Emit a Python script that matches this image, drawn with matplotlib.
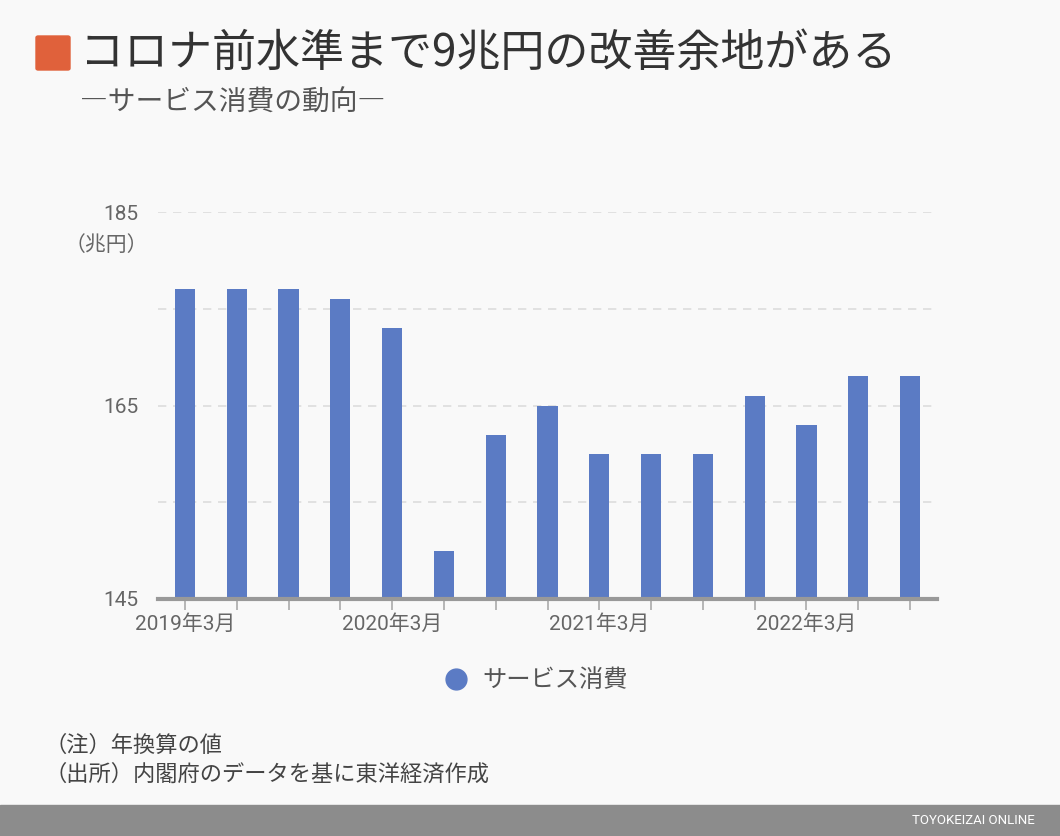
import numpy as np
import matplotlib.pyplot as plt
from matplotlib.patches import FancyBboxPatch
from matplotlib.lines import Line2D

plt.rcParams['font.family'] = ['Noto Sans CJK JP', 'DejaVu Sans']

# 四半期（年換算、兆円）
periods = ['2019年3月', '2019年6月', '2019年9月', '2019年12月',
           '2020年3月', '2020年6月', '2020年9月', '2020年12月',
           '2021年3月', '2021年6月', '2021年9月', '2021年12月',
           '2022年3月', '2022年6月', '2022年9月']
service = [177, 177, 177, 176, 173, 150, 162, 165, 160, 160, 160, 166, 163, 168, 168]
yticks = [145, 155, 165, 175, 185]
ylabels = ['145', '', '165', '', '185']

bg = '#f9f9f9'
bar_color = '#5b7bc4'
text_gray = '#666666'

fig = plt.figure(figsize=(10.6, 8.36), dpi=100, facecolor=bg)
ax = fig.add_axes([158/1060, 1-599/836, (937-158)/1060, (599-212)/836])
ax.set_facecolor(bg)

x = np.arange(len(periods))
ax.bar(x, service, width=0.39, color=bar_color, zorder=3)

ax.set_xlim(-0.52, len(periods) - 0.48)
ax.set_ylim(145, 185)
ax.set_yticks(yticks)
ax.set_yticklabels(ylabels)
for yv in yticks[1:]:
    ax.axhline(yv, color='#dddddd', lw=1.2, ls=(0, (5, 4)), zorder=1)

ax.set_xticks(x)
ax.set_xticklabels([p if p.endswith('年3月') else '' for p in periods])
tick_font = ['Roboto', 'Noto Sans CJK JP']
for lab in ax.get_xticklabels() + ax.get_yticklabels():
    lab.set_family(tick_font)
    lab.set_fontsize(15)
    lab.set_color(text_gray)
ax.tick_params(axis='y', length=0, pad=14)
ax.tick_params(axis='x', length=8, width=1.2, color='#aaaaaa', pad=3)

for s in ['top', 'right', 'left']:
    ax.spines[s].set_visible(False)
ax.spines['bottom'].set_color('#999999')
ax.spines['bottom'].set_linewidth(3)
ax.spines['bottom'].set_zorder(4)

ax.text(-0.066, 0.915, '（兆円）', transform=ax.transAxes, fontsize=15,
        color=text_gray, ha='center', va='center')

handle = Line2D([], [], marker='o', ls='', markersize=15, color=bar_color)
ax.legend([handle], ['サービス消費'], loc='center', bbox_to_anchor=(0.485, -0.21),
          frameon=False, fontsize=17.5, labelcolor='#555555',
          handlelength=1.0, handletextpad=0.6)

# タイトル
fig.patches.append(FancyBboxPatch((36/1060, 1-70/836), 34/1060, 34/836,
                                  boxstyle='round,pad=0,rounding_size=0.002',
                                  transform=fig.transFigure, color='#e0613b'))
fig.text(80/1060, 1-53/836, 'コロナ前水準まで9兆円の改善余地がある', fontsize=31.7,
         color='#333333', ha='left', va='center')
fig.text(80/1060, 1-103/836, '―サービス消費の動向―', fontsize=20,
         color='#555555', ha='left', va='center')

# 注記
fig.text(44/1060, 1-745/836, '（注）年換算の値', fontsize=16, color='#444444',
         ha='left', va='center')
fig.text(44/1060, 1-774/836, '（出所）内閣府のデータを基に東洋経済作成', fontsize=16,
         color='#444444', ha='left', va='center')

# フッター
fig.patches.append(plt.Rectangle((0, 0), 1, 31/836, transform=fig.transFigure,
                                 color='#8c8c8c'))
fig.text(1035/1060, 16/836, 'TOYOKEIZAI ONLINE', fontsize=9.5, color='white',
         ha='right', va='center', family=['Roboto', 'DejaVu Sans'])

fig.savefig('out.png', dpi=100, facecolor=bg)
